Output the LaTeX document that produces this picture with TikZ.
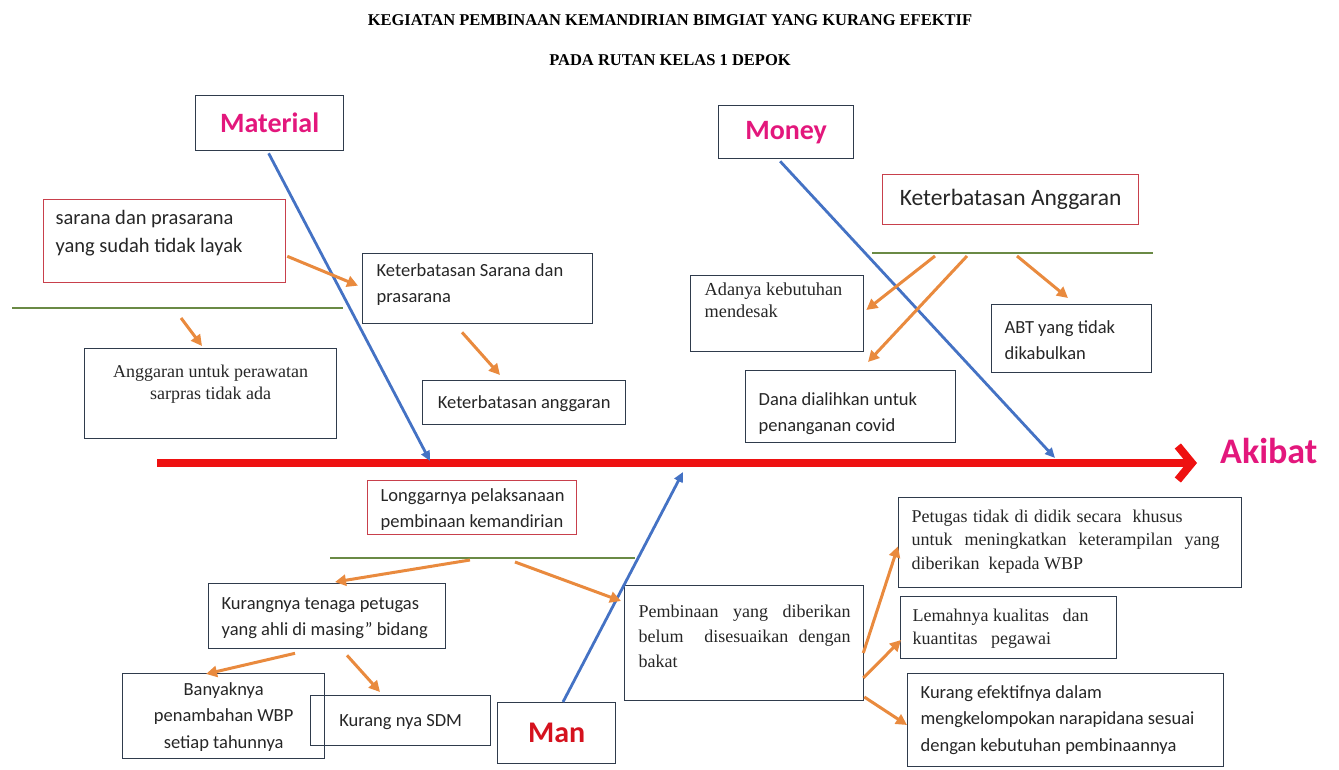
\documentclass[tikz,border=0pt]{standalone}
\usepackage{fontspec}
\setmainfont{Carlito}
\newfontfamily\tms{Liberation Serif}
\usetikzlibrary{arrows.meta,calc}
\definecolor{pinkc}{HTML}{E3177C}
\definecolor{manred}{HTML}{D5121E}
\definecolor{mainred}{HTML}{EE1111}
\definecolor{bluec}{HTML}{4472C4}
\definecolor{orangec}{HTML}{E98A3E}
\definecolor{greenc}{HTML}{6A8A45}
\definecolor{boxc}{HTML}{2F3B4C}
\definecolor{redbox}{HTML}{C8404C}
\newcommand\bxt[4]{\parbox[c][#2pt][t]{#1pt}{\vspace*{#3pt}#4}}
\newcommand\cbx[3]{\parbox[c][#2pt][c]{#1pt}{\centering #3}}
\newcommand\jl[2]{\makebox[#1pt][s]{#2}}
\begin{document}
\begin{tikzpicture}[x=1pt,y=-1pt,
  box/.style={draw=boxc, line width=1.3pt, inner sep=0pt, anchor=north west, text=black!85},
  rbox/.style={box, draw=redbox},
  cal/.style={font=\fontsize{18.5}{26.5}\selectfont},
  tim/.style={font=\tms\fontsize{18}{24}\selectfont},
  ttl/.style={font=\tms\bfseries\fontsize{16.5}{20}\selectfont, inner sep=0pt, anchor=base},
  orarr/.style={draw=orangec, line width=3pt, -{Triangle[length=11pt,width=11pt]}},
  bluarr/.style={draw=bluec, line width=2.8pt, -{Triangle[length=10pt,width=9pt]}},
  grn/.style={draw=greenc, line width=1.6pt}]
\useasboundingbox (0,0) rectangle (1339,770);

% title
\node[ttl] (t1) at (670,26) {KEGIATAN PEMBINAAN KEMANDIRIAN BIMGIAT YANG KURANG EFEKTIF};
\node[ttl] (t2) at (670,66) {PADA RUTAN KELAS 1 DEPOK};

% category heads
\node[box] (material) at (195,95) {\cbx{148}{55}{\bfseries\fontsize{28}{30}\selectfont\color{pinkc}Material}};
\node[box] (money) at (718,105) {\cbx{135}{53}{\bfseries\fontsize{28}{30}\selectfont\color{pinkc}Money}};
\node[box] (man) at (497,702) {\cbx{118}{61}{\bfseries\fontsize{30}{32}\selectfont\color{manred}Man}};
\node[inner sep=0pt, anchor=base west, font=\bfseries\fontsize{36}{38}\selectfont, text=pinkc] (akibat) at (1220,463) {Akibat};

% Material side
\node[rbox] (sarana) at (43,199) {\bxt{242}{83}{5}{\fontsize{20.5}{28}\selectfont\raggedright\leftskip=12pt\strut sarana dan prasarana\\yang sudah tidak layak}};
\node[box,cal] (ketsar) at (362,253) {\bxt{230}{70}{4}{\raggedright\leftskip=14pt\strut Keterbatasan Sarana dan\\prasarana}};
\node[box,tim] (angg) at (84,348) {\bxt{252}{90}{13}{\fontsize{18}{22}\selectfont\centering\strut Anggaran untuk perawatan\\sarpras tidak ada}};
\node[box,cal] (ketang) at (422,380) {\bxt{203}{44}{9}{\centering\strut Keterbatasan anggaran}};

% Money side
\node[rbox] (ketangr) at (882,174) {\bxt{256}{50}{11}{\centering\fontsize{23.5}{28}\selectfont\strut Keterbatasan Anggaran}};
\node[box,tim] (adanya) at (690,275) {\bxt{173}{76}{4}{\fontsize{18.3}{22.5}\selectfont\raggedright\leftskip=14pt\strut Adanya kebutuhan\\mendesak}};
\node[box,cal] (abt) at (991,304) {\bxt{160}{68}{10}{\raggedright\leftskip=13pt\strut ABT yang tidak\\dikabulkan}};
\node[box,cal] (dana) at (745,370) {\bxt{210}{72}{16}{\raggedright\leftskip=13pt\strut Dana dialihkan untuk\\penanganan covid}};

% Man side
\node[rbox,cal] (longgar) at (367,480) {\bxt{209}{54}{2}{\raggedright\leftskip=13pt\strut Longgarnya pelaksanaan\\pembinaan kemandirian}};
\node[box,cal] (kurang) at (208,583) {\bxt{237}{65}{7}{\raggedright\leftskip=13pt\strut Kurangnya tenaga petugas\\yang ahli di masing” bidang}};
\node[box,cal] (banyak) at (122,673) {\bxt{202}{85}{3}{\centering\strut Banyaknya\\penambahan WBP\\setiap tahunnya}};
\node[box,cal] (sdm) at (310,695) {\bxt{180}{50}{12}{\centering\strut Kurang nya SDM}};
\node[box,tim] (pemb) at (624,585) {\bxt{239}{115}{14}{\fontsize{18}{25}\selectfont\leftskip=14pt\strut\jl{212}{Pembinaan yang diberikan}\\\jl{212}{belum \ disesuaikan dengan}\\bakat}};
\node[box,tim] (petugas) at (898,497) {\bxt{343}{90}{8}{\fontsize{18}{23.5}\selectfont\leftskip=13pt\strut\jl{271}{Petugas tidak di didik secara \ khusus}\\\jl{308}{untuk meningkatkan keterampilan yang}\\diberikan\ \ kepada WBP}};
\node[box,tim] (lemah) at (900,596) {\bxt{216}{62}{9}{\fontsize{18}{23}\selectfont\raggedright\leftskip=12pt\strut Lemahnya kualitas\ \ \ dan\\kuantitas\ \ \ pegawai}};
\node[box,cal] (kurEf) at (907,673) {\bxt{316}{93}{6}{\raggedright\leftskip=13pt\strut Kurang efektifnya dalam\\mengkelompokan narapidana sesuai\\dengan kebutuhan pembinaannya}};

% spine
\coordinate (spine) at (157,463);
\coordinate (tip) at (1197,463);
\draw[mainred, line width=8pt, -{Straight Barb[length=14pt,width=34pt]}] (spine) -- (tip);

% green bones
\coordinate (gl1) at (12,308);  \coordinate (gl2) at (343,308);
\coordinate (gm1) at (872,253); \coordinate (gm2) at (1153,253);
\coordinate (gb1) at (330,558); \coordinate (gb2) at (635,558);
\draw[grn] (gl1) -- (gl2);
\draw[grn] (gm1) -- (gm2);
\draw[grn] (gb1) -- (gb2);

% blue category arrows
\coordinate (matend) at (430,461);
\coordinate (monend) at (1055,458);
\coordinate (manend) at (683,472);
\draw[bluarr] ($(material.south)+(-1,2)$) -- (matend);
\draw[bluarr] ($(money.south)+(-6,2)$) -- (monend);
\draw[bluarr] ($(man.north west)+(66,0)$) -- (manend);

% orange arrows - Material
\coordinate (o2) at (181,318);
\draw[orarr] ($(sarana.south east)+(1,-27)$) -- ($(ketsar.west)+(-4,-3)$);
\draw[orarr] (o2) -- ($(angg.north west)+(118,-2)$);
\draw[orarr] ($(ketsar.south west)+(100,8)$) -- ($(ketang.north west)+(78,-5)$);

% orange arrows - Money
\coordinate (o4) at (935,256);
\coordinate (o5) at (967,256);
\coordinate (o6) at (1017,256);
\draw[orarr] (o4) -- ($(adanya.north east)+(2,35)$);
\draw[orarr] (o5) -- ($(dana.north west)+(123,-8)$);
\draw[orarr] (o6) -- ($(abt.north west)+(77,-6)$);

% orange arrows - Man
\coordinate (o7) at (470,560);
\coordinate (o8) at (515,562);
\draw[orarr] (o7) -- ($(kurang.north west)+(127,-1)$);
\draw[orarr] (o8) -- ($(pemb.north west)+(-3,16)$);
\draw[orarr] ($(kurang.south west)+(87,4)$) -- ($(banyak.north west)+(84,1)$);
\draw[orarr] ($(kurang.south west)+(139,6)$) -- ($(sdm.north west)+(70,-3)$);
\draw[orarr] ($(pemb.north east)+(-1,68)$) -- ($(petugas.south west)+(0,-42)$);
\draw[orarr] ($(pemb.north east)+(-1,93)$) -- ($(lemah.north west)+(1,44)$);
\draw[orarr] ($(pemb.north east)+(0,112)$) -- ($(kurEf.north west)+(0,52)$);
\end{tikzpicture}
\end{document}
